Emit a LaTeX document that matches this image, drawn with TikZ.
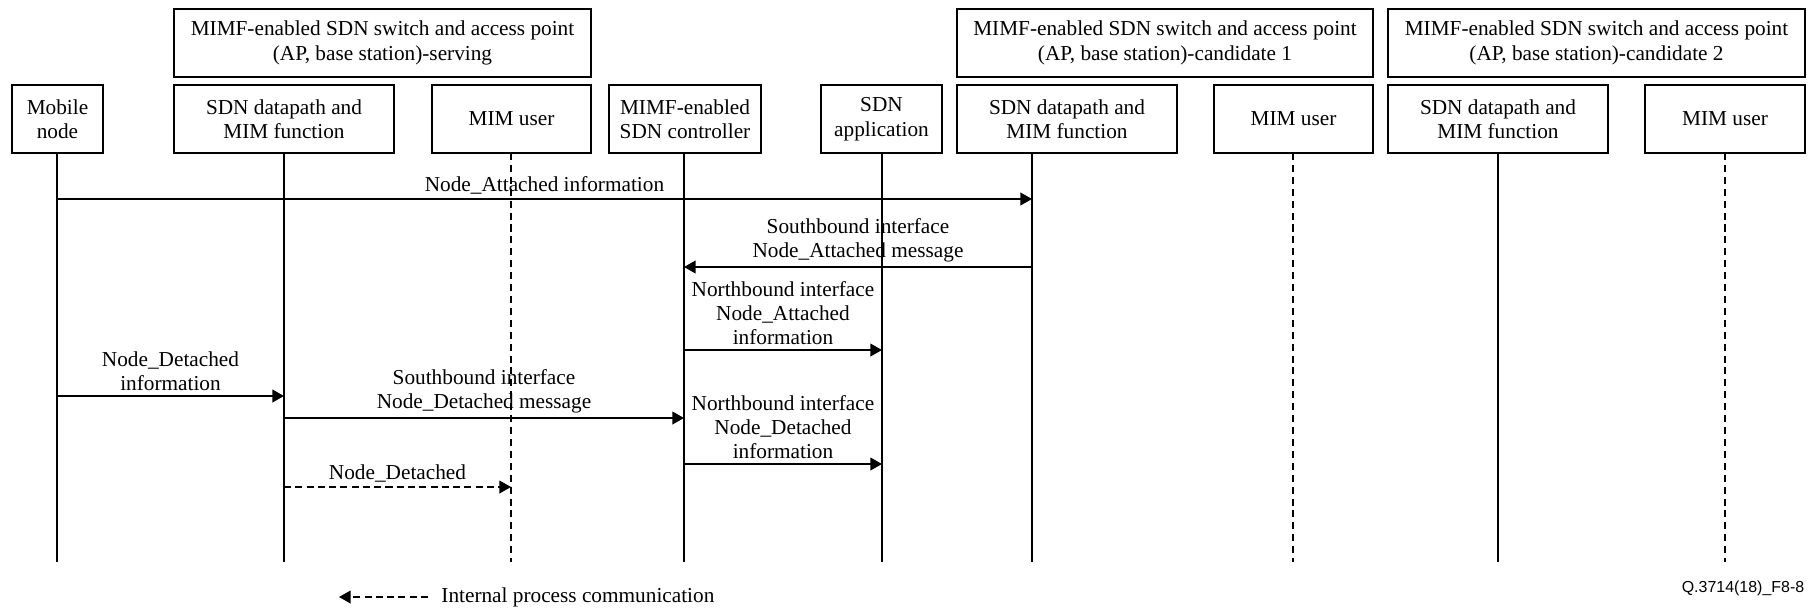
\documentclass[tikz,border=0pt]{standalone}
\usepackage{fontspec}
\setmainfont{Liberation Serif}
\newfontfamily\tagfont{Liberation Sans}
\usetikzlibrary{arrows.meta}

\begin{document}
\begin{tikzpicture}[x=0.47pt,y=-0.47pt,
  box/.style={draw,line width=0.8pt,minimum height=32pt,inner sep=1pt,align=center,font=\fontsize{10}{11.5}\selectfont},
  msg/.style={line width=0.8pt,-{Triangle[length=5.5pt,width=6pt]}},
  imsg/.style={msg,dash pattern=on 3.3pt off 2pt},
  life/.style={line width=0.8pt},
  ilife/.style={life,dash pattern=on 3.3pt off 2.3pt},
  lbl/.style={above,align=center,inner sep=2pt,font=\fontsize{10}{11.3}\selectfont}]
\useasboundingbox (0,0) rectangle (1813,610);
% group boxes
\node[box,minimum width=196pt] (grpServ) at (382.5,43) {MIMF-enabled SDN switch and access point\\(AP, base station)-serving};
\node[box,minimum width=195.5pt] (grpCandA) at (1165,43) {MIMF-enabled SDN switch and access point\\(AP, base station)-candidate 1};
\node[box,minimum width=196pt] (grpCandB) at (1596.5,43) {MIMF-enabled SDN switch and access point\\(AP, base station)-candidate 2};
% participants
\node[box,minimum width=42.8pt] (mobile) at (57.5,119) {Mobile\\node};
\node[box,minimum width=103.4pt] (dpServ) at (284,119) {SDN datapath and\\MIM function};
\node[box,minimum width=74.7pt] (userServ) at (511.5,119) {MIM user};
\node[box,minimum width=71.4pt] (ctrl) at (685,119) {MIMF-enabled\\SDN controller};
\node[box,minimum width=56.9pt] (app) at (881.5,119) {SDN\\application};
\node[box,minimum width=103.4pt] (dpCandA) at (1067,119) {SDN datapath and\\MIM function};
\node[box,minimum width=74.7pt] (userCandA) at (1293.5,119) {MIM user};
\node[box,minimum width=103.4pt] (dpCandB) at (1498,119) {SDN datapath and\\MIM function};
\node[box,minimum width=75.2pt] (userCandB) at (1725,119) {MIM user};
% lifelines
\foreach \n/\x in {mobile/57,dpServ/284,ctrl/684,app/882,dpCandA/1032,dpCandB/1498}{
  \coordinate (\n-top) at (\x,153);
  \coordinate (\n-bot) at (\x,562);
  \draw[life] (\n-top) -- (\n-bot);
}
\foreach \n/\x in {userServ/511,userCandA/1293,userCandB/1725}{
  \coordinate (\n-top) at (\x,153);
  \coordinate (\n-bot) at (\x,562);
  \draw[ilife] (\n-top) -- (\n-bot);
}
% message rows
\coordinate (r1) at (0,199);
\coordinate (r2) at (0,267);
\coordinate (r3) at (0,350);
\coordinate (r4) at (0,396);
\coordinate (r5) at (0,418);
\coordinate (r6) at (0,464);
\coordinate (r7) at (0,487);
% messages
\draw[msg] (mobile-top |- r1) -- node[lbl]{Node\_Attached information} (dpCandA-top |- r1);
\draw[msg] (dpCandA-top |- r2) -- node[lbl]{Southbound interface\\Node\_Attached message} (ctrl-top |- r2);
\draw[msg] (ctrl-top |- r3) -- node[lbl]{Northbound interface\\Node\_Attached\\information} (app-top |- r3);
\draw[msg] (mobile-top |- r4) -- node[lbl]{Node\_Detached\\information} (dpServ-top |- r4);
\draw[msg] (dpServ-top |- r5) -- node[lbl]{Southbound interface\\Node\_Detached message} (ctrl-top |- r5);
\draw[msg] (ctrl-top |- r6) -- node[lbl]{Northbound interface\\Node\_Detached\\information} (app-top |- r6);
\draw[imsg] (dpServ-top |- r7) -- node[lbl]{Node\_Detached} (userServ-top |- r7);
% legend
\node[anchor=west,inner sep=0pt,font=\fontsize{10}{12}\selectfont] (legend) at (441,597) {Internal process communication};
\coordinate (legA) at (428,597);
\coordinate (legB) at (339,597);
\draw[imsg] (legA) -- (legB);
\node[font=\tagfont\fontsize{7.5}{9}\selectfont] (figtag) at (1743,588) {Q.3714(18)\_F8-8};
\end{tikzpicture}
\end{document}
